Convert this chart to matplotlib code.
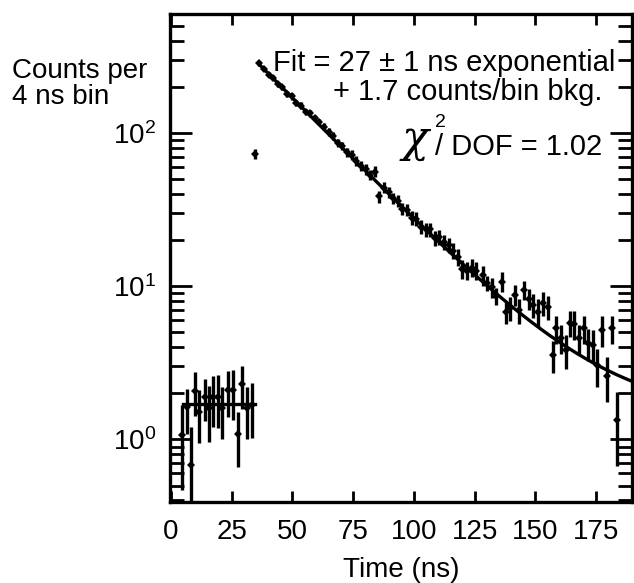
import numpy as np
import matplotlib
matplotlib.use("Agg")
import matplotlib.pyplot as plt

plt.rcParams['font.family'] = ['Liberation Sans', 'DejaVu Sans']
plt.rcParams['mathtext.fontset'] = 'custom'
plt.rcParams['mathtext.rm'] = 'Liberation Sans'
plt.rcParams['mathtext.it'] = 'Liberation Sans:italic'
plt.rcParams['mathtext.default'] = 'regular'

# ---- data ----
# flat background region (counts per bin)
bkg_t = [4.4, 6.4, 8.2, 9.9, 11.7, 14.0, 15.6, 17.4, 19.2, 21.1, 23.6, 25.4, 27.4, 29.4, 31.2, 33.2]
bkg_v = [1.07, 1.62, 0.68, 2.08, 1.52, 1.90, 1.60, 1.90, 1.90, 1.60, 2.10, 2.10, 1.08, 2.30, 1.60, 1.68]
bkg_e = [0.60, 0.53, 0.53, 0.66, 0.57, 0.58, 0.63, 0.70, 0.72, 0.60, 0.70, 0.75, 0.42, 0.73, 0.60, 0.65]

# isolated early point
early_t = [34.6]
early_v = [72.9]
early_e = [5.6]

# decay region
decay_t = [36.4, 38.3, 40.2, 42.1, 44.0, 45.9, 47.8, 49.7, 51.6, 53.5,
           55.4, 57.3, 59.2, 61.1, 63.0, 64.9, 66.8, 68.7, 70.6, 72.5,
           74.4, 76.3, 78.2, 80.1, 82.0, 83.9, 85.8, 87.7, 89.6, 91.5,
           93.4, 95.3, 97.2, 99.1, 101.0, 102.9, 104.8, 106.7, 108.6, 110.5,
           112.4, 114.3, 116.2, 118.1, 120.0, 121.9, 123.8, 125.7,
           128.3, 130.3, 132.0, 133.8, 136.3, 137.9, 139.6, 141.6, 143.4, 145.4,
           147.4, 149.2, 151.2, 153.0, 155.1, 157.2, 158.5, 160.4, 162.5, 164.3,
           166.1, 168.1, 170.1, 171.8, 173.9, 175.5, 177.6, 179.4, 181.7, 183.5]
decay_v = [284, 262, 240, 229, 208, 199, 180, 173, 157, 151,
           137, 134, 125, 118, 110, 101, 96, 86, 82, 75,
           72, 66, 61, 58, 53, 56, 38.5, 44, 41, 37.5,
           36, 32, 31.5, 28, 27.5, 24.5, 23.5, 23.5, 20.5, 21.0,
           19.5, 18.5, 17.0, 15.5, 13.0, 12.6, 13.2, 12.6,
           11.8, 10.5, 9.85, 8.6, 10.7, 6.8, 7.2, 8.8, 7.0, 9.45,
           8.3, 7.55, 6.8, 7.75, 7.3, 3.55, 5.3, 4.6, 3.85, 5.75,
           5.65, 4.6, 5.3, 4.25, 4.15, 3.05, 5.2, 2.6, 5.3, 1.35]
decay_e = [10, 9, 9, 9, 8, 8, 8, 8, 7, 7,
           7, 7, 6, 6, 6, 6, 6, 5, 5, 5,
           5, 5, 4.5, 4.5, 4, 4.5, 3.5, 3.5, 3.5, 3.2,
           3.2, 3, 3, 2.8, 2.8, 2.6, 2.5, 2.5, 2.3, 2.3,
           2.2, 2.1, 2.0, 1.9, 1.8, 1.7, 1.8, 1.7,
           1.7, 1.2, 1.5, 1.1, 1.6, 1.1, 1.3, 1.4, 1.3, 1.3,
           1.3, 1.3, 1.4, 1.4, 1.3, 0.85, 1.1, 1.0, 0.95, 1.1,
           1.2, 1.0, 1.1, 1.0, 1.0, 0.85, 1.2, 0.85, 1.1, 0.68]

# fit parameters
fit_tau = 27.0        # ns
fit_amp = 1070.0      # counts/bin at t = 0
fit_bkg_curve = 1.45  # level of the drawn curve's tail
bkg_level = 1.7       # counts/bin background
bkg_range = [5.0, 34.4]
fit_range = [36.2, 189.8]

x_ticks = [0, 25, 50, 75, 100, 125, 150, 175]

# ---- figure ----
W, H = 634, 583
fig = plt.figure(figsize=(W / 100, H / 100), dpi=100)
L, R, B, T = 170, 632, 502, 14
ax = fig.add_axes([L / W, 1 - B / H, (R - L) / W, (B - T) / H])

ax.set_yscale('log')
ax.set_xlim(-0.4, 189.8)
ax.set_ylim(0.391, 597)

for t_, v_, e_ in [(bkg_t, bkg_v, bkg_e), (early_t, early_v, early_e), (decay_t, decay_v, decay_e)]:
    ax.errorbar(t_, v_, yerr=e_, fmt='D', ms=4.2, color='black', ecolor='black',
                elinewidth=2.4, capsize=0, mew=0)

tt = np.linspace(fit_range[0], fit_range[1], 400)
ax.plot(tt, fit_amp * np.exp(-tt / fit_tau) + fit_bkg_curve, color='black', lw=2.4)
ax.plot(bkg_range, [bkg_level, bkg_level], color='black', lw=2.4)

for s in ax.spines.values():
    s.set_linewidth(2.4)

ax.set_xticks(x_ticks)
ax.set_xticklabels([str(v) for v in x_ticks])
ax.tick_params(axis='both', which='both', direction='in', top=True, right=True,
               width=2.0, labelsize=20)
ax.tick_params(axis='x', which='major', length=8, pad=12)
ax.tick_params(axis='x', which='minor', bottom=False, top=False)
ax.tick_params(axis='y', which='major', length=16, pad=10)
ax.tick_params(axis='y', which='minor', length=10)

ax.set_xlabel('Time (ns)', fontsize=20, labelpad=9)

fig.text(12 / W, 1 - 58 / H, 'Counts per', fontsize=20, ha='left', va='top')
fig.text(12 / W, 1 - 84 / H, '4 ns bin', fontsize=20, ha='left', va='top')

fig.text(615 / W, 1 - 71 / H, 'Fit = 27 \u00b1 1 ns exponential', fontsize=21,
         ha='right', va='baseline')
fig.text(602 / W, 1 - 100 / H, '+ 1.7 counts/bin bkg.', fontsize=21,
         ha='right', va='baseline')
fig.text(399 / W, 1 - 152 / H, r'$\chi$', fontsize=32, ha='left', va='baseline',
         family='DejaVu Serif', style='italic')
fig.text(435 / W, 1 - 127 / H, '2', fontsize=14, ha='left', va='baseline')
fig.text(602 / W, 1 - 155 / H, '/ DOF = 1.02', fontsize=21, ha='right', va='baseline')

fig.savefig('out.png', dpi=100)
